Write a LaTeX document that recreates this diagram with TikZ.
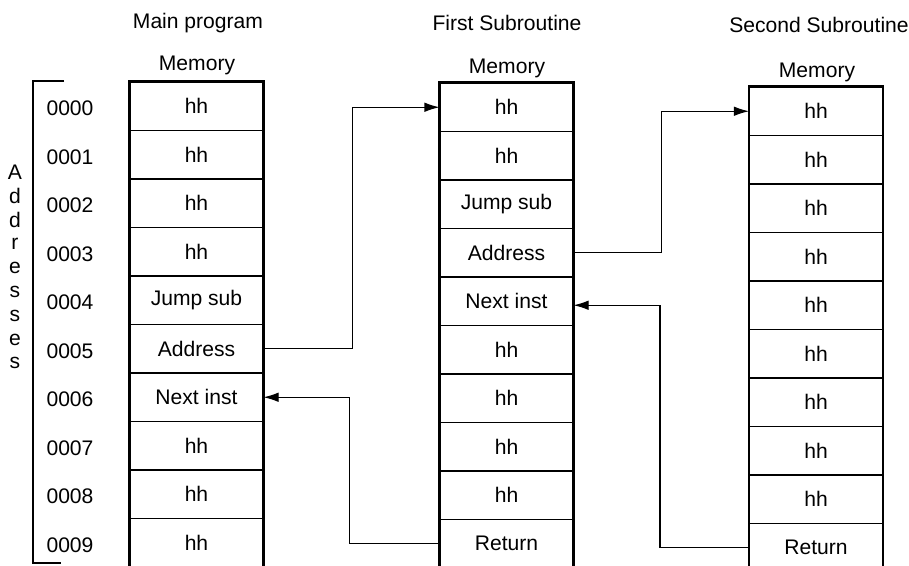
\documentclass[tikz,border=0pt]{standalone}
\usepackage{fontspec}
\setmainfont{Liberation Sans}
\usetikzlibrary{arrows.meta}
\tikzset{
  lbl/.style={font=\fontsize{12}{14}\selectfont, inner sep=0pt},
  cell/.style={lbl, draw, line width=0.6pt, minimum width=2.66cm, minimum height=0.97cm},
  frame/.style={line width=1.3pt},
  link/.style={line width=0.6pt, -{Latex[length=3mm,width=1.9mm]}}
}

\begin{document}
\begin{tikzpicture}
  \useasboundingbox (0cm,0cm) rectangle (18.18cm,-11.32cm);
  \node[lbl] (tMain) at (3.96cm,-0.46cm) {Main program};
  \node[lbl] (tFirst) at (10.14cm,-0.46cm) {First Subroutine};
  \node[lbl] (tSecond) at (16.38cm,-0.5cm) {Second Subroutine};
  \node[lbl] (memMain) at (3.94cm,-1.3cm) {Memory};
  \node[lbl] (memFirst) at (10.14cm,-1.36cm) {Memory};
  \node[lbl] (memSecond) at (16.34cm,-1.44cm) {Memory};
  \foreach \txt [count=\i from 0] in {hh,hh,hh,hh,Jump sub,Address,Next inst,hh,hh,hh} {
    \node[cell] (m\i) at (3.93cm,{-1.64cm-(\i+0.5)*0.97cm}) {\txt};
    \node[lbl] (a\i) at (1.4cm,{-1.68cm-(\i+0.5)*0.97cm}) {000\i};
  }
  \foreach \txt [count=\i from 0] in {hh,hh,Jump sub,Address,Next inst,hh,hh,hh,hh,Return}
    \node[cell] (f\i) at (10.13cm,{-1.66cm-(\i+0.5)*0.97cm}) {\txt};
  \foreach \txt [count=\i from 0] in {hh,hh,hh,hh,hh,hh,hh,hh,hh,Return}
    \node[cell] (s\i) at (16.32cm,{-1.74cm-(\i+0.5)*0.97cm}) {\txt};
  \draw[frame] (m0.north west) rectangle (m9.south east);
  \draw[frame] (f0.north west) rectangle (f9.south east);
  \draw[frame] (s0.north west) rectangle (s9.south east);
  % address bracket
  \foreach \ch/\yy [count=\k] in {A/3.44,d/3.92,d/4.4,r/4.88,e/5.36,s/5.84,s/6.32,e/6.8,s/7.26}
    \node[lbl] (ltr\k) at (0.3cm,-\yy cm) {\ch};
  \draw[line width=0.6pt] (1.28cm,-1.62cm) -- (0.66cm,-1.62cm) -- (0.66cm,-11.26cm) -- (1.22cm,-11.26cm);
  % jumps and returns
  \draw[link] (m5.east) -- ++(1.78cm,0) |- (f0.west);
  \draw[link] (f9.west) -- ++(-1.8cm,0) |- (m6.east);
  \draw[link] (f3.east) -- ++(1.76cm,0) |- (s0.west);
  \draw[link] (s9.west) -- ++(-1.78cm,0) |- ([yshift=-0.08cm]f4.east);
\end{tikzpicture}
\end{document}
